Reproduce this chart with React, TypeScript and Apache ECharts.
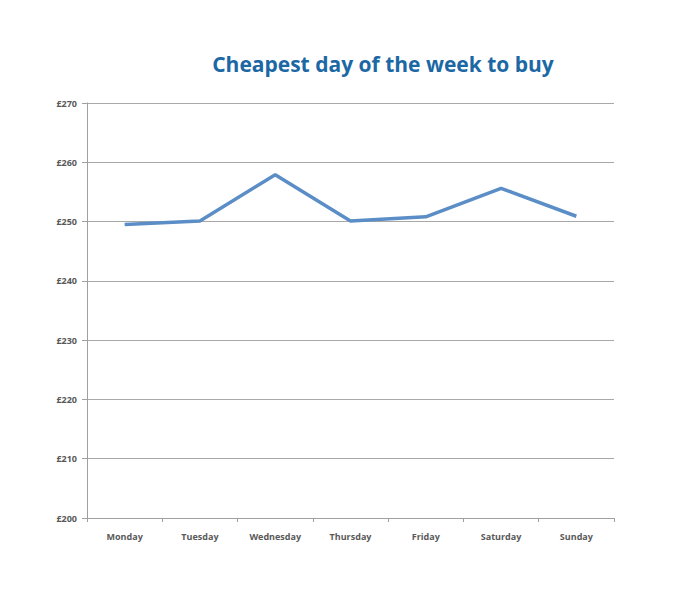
import React, { useEffect, useRef } from "react";
import * as echarts from "echarts";

const days = ["Monday", "Tuesday", "Wednesday", "Thursday", "Friday", "Saturday", "Sunday"];
const prices = [249.5, 250.1, 257.9, 250.1, 250.8, 255.6, 250.9];
const titleText = "Cheapest day of the week to buy";

export default function App() {
  const ref = useRef<HTMLDivElement>(null);
  useEffect(() => {
    if (!ref.current) return;
    const chart = echarts.init(ref.current, null, { renderer: "svg" });
    chart.setOption({
      animation: false,
      title: {
        text: titleText,
        left: 378,
        textAlign: "center",
        top: 48,
        textStyle: { fontFamily: "Open Sans", fontSize: 21, fontWeight: "bold", color: "#1c68a4" },
      },
      grid: { left: 87, right: 86, top: 103, bottom: 79 },
      xAxis: {
        type: "category",
        data: days,
        boundaryGap: true,
        axisLine: { lineStyle: { color: "#a0a0a0", width: 1 } },
        axisTick: { show: true, length: 4, lineStyle: { color: "#a0a0a0" } },
        axisLabel: { fontFamily: "Open Sans", fontSize: 9, fontWeight: "bold", color: "#595959", margin: 14 },
      },
      yAxis: {
        type: "value",
        min: 200,
        max: 270,
        interval: 10,
        axisLine: { show: true, lineStyle: { color: "#a0a0a0", width: 1 } },
        axisTick: { show: true, length: 5, lineStyle: { color: "#a0a0a0" } },
        splitLine: { lineStyle: { color: "#a8a8a8", width: 1 } },
        axisLabel: {
          fontFamily: "Open Sans",
          fontSize: 9,
          fontWeight: "bold",
          color: "#595959",
          margin: 10,
          formatter: (v: number) => "£" + v,
        },
      },
      series: [
        {
          type: "line",
          data: prices,
          symbol: "none",
          lineStyle: { color: "#5b8ec6", width: 3.5 },
        },
      ],
    });
    return () => chart.dispose();
  }, []);
  return (
    <div style={{ position: "absolute", left: 0, top: 0 }}>
      <div ref={ref} style={{ width: 700, height: 597 }} />
    </div>
  );
}
